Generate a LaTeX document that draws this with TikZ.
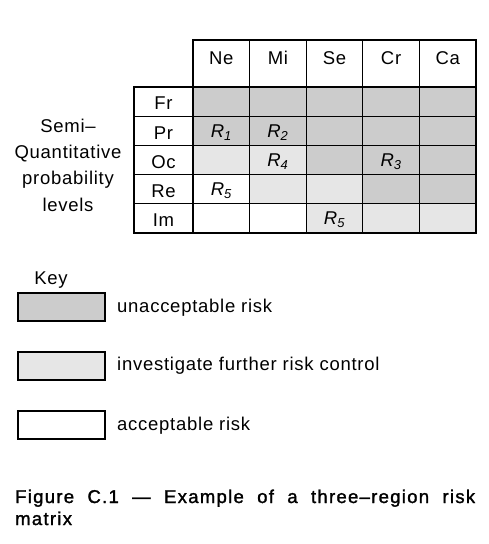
\documentclass[tikz,border=0pt]{standalone}
\usepackage{fontspec}
\setmainfont{Liberation Sans}[LetterSpace=4]
\newfontfamily\capfont{Liberation Sans}[LetterSpace=7,FakeBold=1.5]
\definecolor{dk}{RGB}{204,204,204}
\definecolor{lt}{RGB}{230,230,230}
\begin{document}
\begin{tikzpicture}[x=1pt,y=-1pt,font=\fontsize{18.5}{22}\selectfont,
  cellbox/.style={minimum width=56.6pt,minimum height=29.2pt,inner sep=0pt,draw=none},
  D/.style={cellbox,fill=dk},
  L/.style={cellbox,fill=lt},
  W/.style={cellbox,fill=white},
  thin/.style={line width=1.1pt},
  thick/.style={line width=2.6pt},
  keybox/.style={draw,line width=2pt,minimum width=87pt,minimum height=28pt,inner sep=0pt},
  keytext/.style={anchor=west,inner sep=0pt},
  rlab/.style={font=\fontsize{18.5}{22}\selectfont\itshape}]
\useasboundingbox (0,0) rectangle (488,544);
% cells
\foreach \r/\row in {1/{D,D,D,D,D},2/{D,D,D,D,D},3/{L,L,D,D,D},4/{W,L,L,D,D},5/{W,W,L,L,L}}{
  \foreach \f [count=\c] in \row {
    \node[\f] (c-\r-\c) at ({193+(\c-0.5)*56.6},{87+(\r-0.5)*29.2}) {};
  }
}
% header labels
\foreach \t [count=\c] in {Ne,Mi,Se,Cr,Ca}{
  \node[inner sep=0pt] (h\c) at ({193+(\c-0.5)*56.6},58) {\t};
}
% row labels
\foreach \t [count=\r] in {Fr,Pr,Oc,Re,Im}{
  \node[inner sep=0pt] (l\r) at (163.5,{87+(\r-0.5)*29.2+2}) {\t};
}
% risk labels
\node[rlab,anchor=base] (r1) at ([yshift=-6.5pt]c-2-1.center) {R\textsubscript{1}};
\node[rlab,anchor=base] (r2) at ([yshift=-6.5pt]c-2-2.center) {R\textsubscript{2}};
\node[rlab,anchor=base] (r4) at ([yshift=-6.5pt]c-3-2.center) {R\textsubscript{4}};
\node[rlab,anchor=base] (r3) at ([yshift=-6.5pt]c-3-4.center) {R\textsubscript{3}};
\node[rlab,anchor=base] (r5a) at ([yshift=-6.5pt]c-4-1.center) {R\textsubscript{5}};
\node[rlab,anchor=base] (r5b) at ([yshift=-6.5pt]c-5-3.center) {R\textsubscript{5}};
% grid thin lines
\foreach \c in {1,2,3,4}{
  \draw[thin] ({193+\c*56.6},40) -- ({193+\c*56.6},233);
}
\foreach \r in {1,2,3,4}{
  \draw[thin] (134,{87+\r*29.2}) -- (476,{87+\r*29.2});
}
% thick borders
\draw[thick] (193,40) rectangle (476,87);
\draw[thick] (134,87) rectangle (476,233);
\draw[thick] (193,40) -- (193,233);
% side label
\node[align=center,font=\fontsize{18.5}{26.3}\selectfont] (side) at (68,165) {Semi–\\Quantitative\\probability\\levels};
% key
\node[inner sep=0pt] (key) at (51,280) {Key};
\node[keybox,fill=dk] (k1) at (61,306.5) {};
\node[keybox,fill=lt] (k2) at (61,365.5) {};
\node[keybox,fill=white] (k3) at (61,425) {};
\node[keytext] (t1) at (117,308) {unacceptable risk};
\node[keytext] (t2) at (117,366) {investigate further risk control};
\node[keytext] (t3) at (117,426) {acceptable risk};
% caption
\node[anchor=base west,inner sep=0pt,font=\capfont\fontsize{18.5}{22}\selectfont] (cap1) at (15,503)
  {\makebox[460pt][s]{Figure C.1 — Example of a three–region risk}};
\node[anchor=base west,inner sep=0pt,font=\capfont\fontsize{18.5}{22}\selectfont] (cap2) at (15,525) {matrix};
\end{tikzpicture}
\end{document}
